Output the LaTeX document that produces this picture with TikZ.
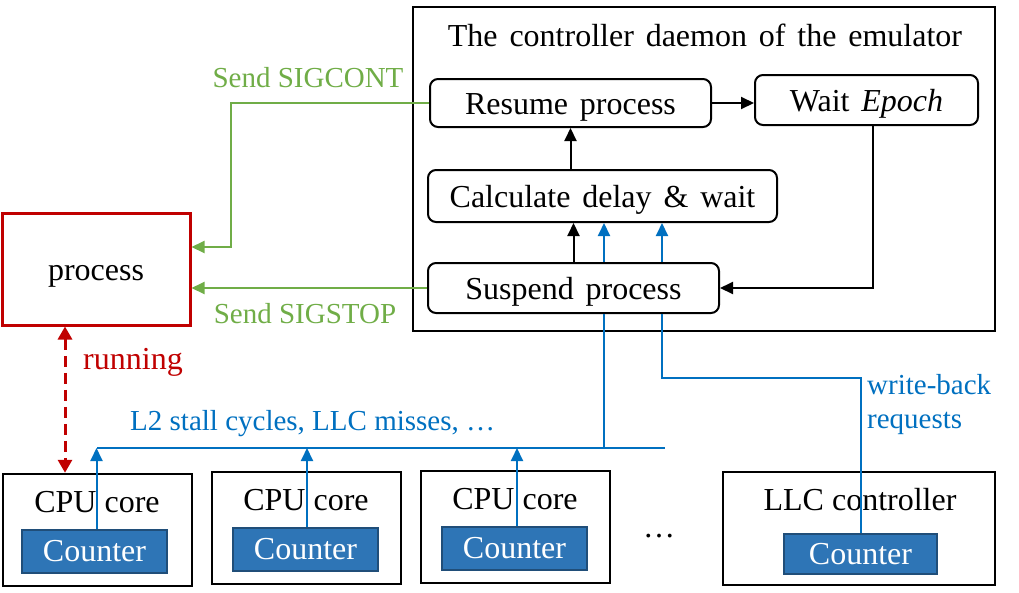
\documentclass[tikz,border=0pt]{standalone}
\usepackage{fontspec}
\setmainfont{Liberation Serif}
\usepackage{tikz}
\definecolor{sigred}{RGB}{192, 0, 0}
\definecolor{siggreen}{RGB}{112, 173, 71}
\definecolor{pmublue}{RGB}{0, 112, 192}
\definecolor{ctrfill}{RGB}{46, 117, 182}
\definecolor{ctrdraw}{RGB}{32, 78, 121}
\usetikzlibrary{arrows.meta}
\newcommand\widesp{\spaceskip=0.37em\relax}

\begin{document}
\begin{tikzpicture}[
  every node/.style={font=\fontsize{32pt}{38pt}\selectfont},
  wide/.style={execute at begin node=\widesp},
  stepbox/.style={wide, draw=black, fill=white, rounded corners=8pt, line width=2pt, inner sep=0pt, text height=22pt, text depth=0pt},
  unitbox/.style={draw=black, fill=white, line width=2.5pt, inner sep=0pt, minimum width=189pt, minimum height=112pt},
  counterbox/.style={draw=ctrdraw, fill=ctrfill, text=white, line width=1.5pt, inner sep=0pt, minimum width=145pt, minimum height=43pt},
  flow/.style={line width=2pt, -{Triangle[length=13pt,width=12pt]}},
  sig/.style={flow, color=siggreen},
  pmu/.style={line width=2pt, color=pmublue},
  lbl/.style={font=\fontsize{29pt}{34pt}\selectfont, inner sep=0pt}
]
\useasboundingbox (0pt, 0pt) rectangle (1019pt, -592pt);

% emulator daemon
\node (emu) [draw=black, line width=2.5pt, minimum width=582pt, minimum height=324pt, inner sep=0pt] at (704.0pt, -169.0pt) {};
\node (title) [wide] at (705.0pt, -35.0pt) {The controller daemon of the emulator};
\node (resume) [stepbox, minimum width=281pt, minimum height=48pt] at (570.5pt, -103.0pt) {Resume process};
\node (wait) [stepbox, minimum width=223pt, minimum height=50pt] at (866.5pt, -100.0pt) {Wait \textit{Epoch}};
\node (calc) [stepbox, minimum width=349pt, minimum height=52pt] at (602.5pt, -196.0pt) {Calculate delay \& wait};
\node (suspend) [stepbox, minimum width=291pt, minimum height=50pt] at (573.5pt, -288.0pt) {Suspend process};
\draw [flow] (resume.east) -- (resume.east -| wait.west);
\draw [flow] (calc.north -| resume.south) -- (resume.south);
\draw [flow] (suspend.north) -- (suspend.north |- calc.south);
\draw [flow] ([xshift=6pt]wait.south) |- (suspend.east);

% the emulated process
\node (proc) [draw=sigred, line width=3pt, minimum width=188pt, minimum height=112pt, inner sep=0pt, text height=22pt, text depth=0pt] at (96.0pt, -269.0pt) {process};
\draw [sig] (resume.west) -- ++(-198pt, 0pt) |- ([yshift=22pt]proc.east);
\draw [sig] (suspend.west) -- (suspend.west -| proc.east);
\node (cont) [lbl, text=siggreen] at (308.0pt, -78.0pt) {Send SIGCONT};
\node (stop) [lbl, text=siggreen] at (305.0pt, -314.0pt) {Send SIGSTOP};

% cores and LLC
\node (core1) [unitbox] at (97.5pt, -530.0pt) {};
\node (core2) [unitbox] at (306.5pt, -528.0pt) {};
\node (core3) [unitbox] at (515.5pt, -527.0pt) {};
\node (llc) [unitbox, minimum width=272pt, minimum height=113pt] at (859.0pt, -528.5pt) {};
\node (name1) at (97.0pt, -502.0pt) {CPU core};
\node (name2) at (306.0pt, -500.0pt) {CPU core};
\node (name3) at (515.0pt, -499.0pt) {CPU core};
\node (name4) at (860.0pt, -500.0pt) {LLC controller};
\node (ctr1) [counterbox] at (94.5pt, -551.5pt) {Counter};
\node (ctr2) [counterbox] at (305.5pt, -549.5pt) {Counter};
\node (ctr3) [counterbox] at (514.5pt, -548.5pt) {Counter};
\node (ctr4) [counterbox, minimum width=153pt, minimum height=40pt] at (860.5pt, -554.0pt) {Counter};
\node (more) at (659.0pt, -536.0pt) {\dots};

\draw [line width=3pt, color=sigred, dash pattern=on 11pt off 6pt, {Triangle[length=13pt,width=14pt]}-{Triangle[length=13pt,width=14pt]}] ([xshift=-31pt]proc.south) -- ([xshift=-31pt]proc.south |- core1.north);
\node (run) [lbl, font=\fontsize{32pt}{38pt}\selectfont, text=sigred] at (133.0pt, -362.0pt) {running};

% counter readings
\coordinate (busL) at (97.0pt, -448.0pt);
\coordinate (busR) at (665.0pt, -448.0pt);
\coordinate (tap) at (604.0pt, -448.0pt);
\coordinate (wb) at (662.0pt, -378.0pt);
\draw [pmu] (busL) -- (busR);
\draw [pmu, flow] ([xshift=2pt]ctr1.north) -- ([xshift=2pt]ctr1.north |- busL);
\draw [pmu, flow] ([xshift=1.5pt]ctr2.north) -- ([xshift=1.5pt]ctr2.north |- busL);
\draw [pmu, flow] ([xshift=2.5pt]ctr3.north) -- ([xshift=2.5pt]ctr3.north |- busL);
\draw [pmu] (tap) -- (tap |- suspend.south);
\draw [pmu, flow] (tap |- suspend.north) -- (tap |- calc.south);
\draw [pmu] (ctr4.north) |- (wb) -- (wb |- suspend.south);
\draw [pmu, flow] (wb |- suspend.north) -- (wb |- calc.south);
\node (l2) [lbl, text=pmublue, anchor=west] at (130.0pt, -424.0pt) {L2 stall cycles, LLC misses, \dots};
\node (wbl) [lbl, text=pmublue, anchor=west, align=left] at (867.0pt, -405.0pt) {write-back\\requests};
\end{tikzpicture}
\end{document}
